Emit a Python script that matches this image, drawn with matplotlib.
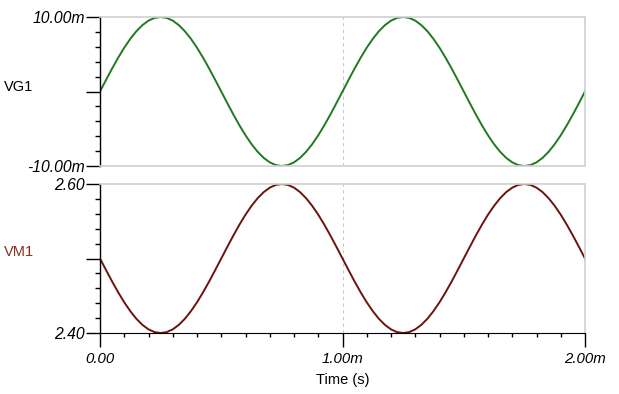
import matplotlib

matplotlib.use("Agg")
import matplotlib.pyplot as plt
from matplotlib.ticker import FixedLocator, MultipleLocator

plt.rcParams["font.family"] = ["Liberation Sans", "DejaVu Sans"]

# time samples, ms (0.025 ms step over 2 ms)
time_ms = [i * 0.025 for i in range(81)]

# VG1 in mV
vg1_mv = [
    0.00, 1.56, 3.09, 4.54, 5.88, 7.07, 8.09, 8.91, 9.51, 9.88,
    10.00, 9.88, 9.51, 8.91, 8.09, 7.07, 5.88, 4.54, 3.09, 1.56,
    0.00, -1.56, -3.09, -4.54, -5.88, -7.07, -8.09, -8.91, -9.51, -9.88,
    -10.00, -9.88, -9.51, -8.91, -8.09, -7.07, -5.88, -4.54, -3.09, -1.56,
    0.00, 1.56, 3.09, 4.54, 5.88, 7.07, 8.09, 8.91, 9.51, 9.88,
    10.00, 9.88, 9.51, 8.91, 8.09, 7.07, 5.88, 4.54, 3.09, 1.56,
    0.00, -1.56, -3.09, -4.54, -5.88, -7.07, -8.09, -8.91, -9.51, -9.88,
    -10.00, -9.88, -9.51, -8.91, -8.09, -7.07, -5.88, -4.54, -3.09, -1.56,
    0.00,
]

# VM1 in V
vm1_v = [
    2.5000, 2.4844, 2.4691, 2.4546, 2.4412, 2.4293, 2.4191, 2.4109, 2.4049, 2.4012,
    2.4000, 2.4012, 2.4049, 2.4109, 2.4191, 2.4293, 2.4412, 2.4546, 2.4691, 2.4844,
    2.5000, 2.5156, 2.5309, 2.5454, 2.5588, 2.5707, 2.5809, 2.5891, 2.5951, 2.5988,
    2.6000, 2.5988, 2.5951, 2.5891, 2.5809, 2.5707, 2.5588, 2.5454, 2.5309, 2.5156,
    2.5000, 2.4844, 2.4691, 2.4546, 2.4412, 2.4293, 2.4191, 2.4109, 2.4049, 2.4012,
    2.4000, 2.4012, 2.4049, 2.4109, 2.4191, 2.4293, 2.4412, 2.4546, 2.4691, 2.4844,
    2.5000, 2.5156, 2.5309, 2.5454, 2.5588, 2.5707, 2.5809, 2.5891, 2.5951, 2.5988,
    2.6000, 2.5988, 2.5951, 2.5891, 2.5809, 2.5707, 2.5588, 2.5454, 2.5309, 2.5156,
    2.5000,
]

x_ticks = [0.0, 1.0, 2.0]
x_labels = ["0.00", "1.00m", "2.00m"]
vg1_ticks = [-10.0, 0.0, 10.0]
vg1_labels = ["-10.00m", "", "10.00m"]
vm1_ticks = [2.40, 2.50, 2.60]
vm1_labels = ["2.40", "", "2.60"]

GREEN = "#1f7a1f"
DARK_RED = "#6a1410"
FRAME = "#d0d0d0"

fig = plt.figure(figsize=(6.19, 3.94), dpi=100)
W, H = 619, 394
left, right = 100, 585
ax1 = fig.add_axes([left / W, 1 - 166 / H, (right - left) / W, (166 - 17) / H])
ax2 = fig.add_axes([left / W, 1 - 333 / H, (right - left) / W, (333 - 184) / H])


def style(ax, yticks, ylabels, ylim, bottom_axis):
    ax.set_xlim(0, 2)
    ax.set_ylim(*ylim)
    for side in ("top", "right"):
        ax.spines[side].set_color(FRAME)
        ax.spines[side].set_linewidth(1.2)
    ax.spines["left"].set_color("black")
    ax.spines["left"].set_linewidth(1.0)
    ax.yaxis.set_major_locator(FixedLocator(yticks))
    ax.set_yticklabels(ylabels, style="italic", fontsize=11.3)
    ax.yaxis.set_minor_locator(MultipleLocator((ylim[1] - ylim[0]) / 10))
    ax.tick_params(axis="y", which="major", length=10, width=1.0, direction="out", pad=1)
    ax.tick_params(axis="y", which="minor", length=3.5, width=1.0, direction="out")
    ax.axvline(1.0, color="#c8c8c8", linestyle=(0, (3, 3)), linewidth=0.8, zorder=0)
    if bottom_axis:
        ax.spines["bottom"].set_color("black")
        ax.xaxis.set_major_locator(FixedLocator(x_ticks))
        ax.set_xticklabels(x_labels, style="italic", fontsize=10.8)
        ax.xaxis.set_minor_locator(MultipleLocator(0.1))
        ax.tick_params(axis="x", which="major", length=10, width=1.0, direction="out", pad=4)
        ax.tick_params(axis="x", which="minor", length=3, width=1.0, direction="out")
    else:
        ax.spines["bottom"].set_color(FRAME)
        ax.spines["bottom"].set_linewidth(1.2)
        ax.set_xticks([])
        ax.xaxis.set_minor_locator(FixedLocator([]))


ax1.plot(time_ms, vg1_mv, color=GREEN, linewidth=1.4)
style(ax1, vg1_ticks, vg1_labels, (-10, 10), False)

ax2.plot(time_ms, vm1_v, color=DARK_RED, linewidth=1.4)
style(ax2, vm1_ticks, vm1_labels, (2.40, 2.60), True)
ax2.set_xlabel("Time (s)", fontsize=10.5, labelpad=5)

fig.text(4 / W, 1 - 87 / H, "VG1", fontsize=10.5, color="black", ha="left", va="center")
fig.text(4 / W, 1 - 252 / H, "VM1", fontsize=10.5, color="#8a2e22", ha="left", va="center")

fig.savefig("out.png", dpi=100)
